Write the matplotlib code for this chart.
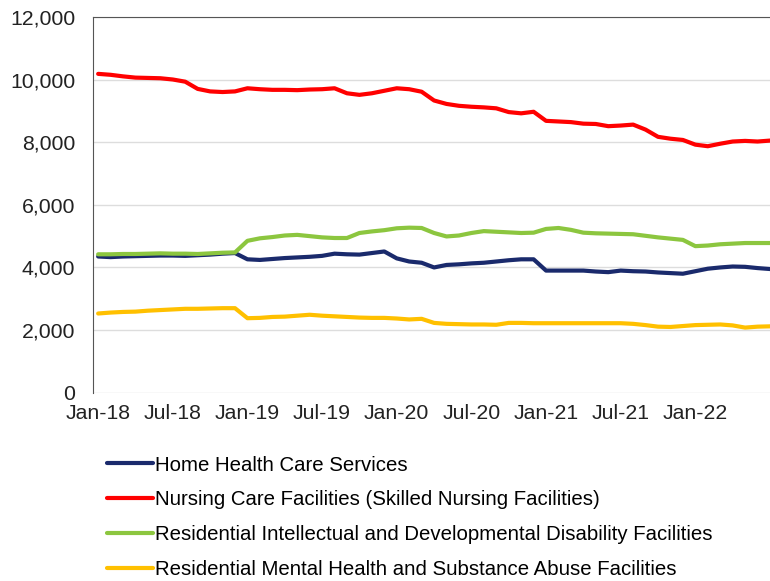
import numpy as np
import matplotlib.pyplot as plt

plt.rcParams['font.family'] = ['Liberation Sans', 'DejaVu Sans']

# monthly values, Jan-18 .. Jul-22
home_health = [4350, 4330, 4350, 4360, 4370, 4380, 4380, 4370, 4390, 4410, 4440, 4460,
               4260, 4240, 4270, 4300, 4320, 4340, 4370, 4440, 4420, 4410, 4460, 4510,
               4290, 4190, 4150, 4000, 4080, 4100, 4130, 4150, 4190, 4230, 4260, 4260,
               3900, 3900, 3900, 3900, 3870, 3850, 3900, 3880, 3870, 3840, 3820, 3800,
               3880, 3960, 4000, 4030, 4020, 3980, 3950]
nursing = [10180, 10150, 10100, 10060, 10050, 10040, 10000, 9930, 9700, 9620, 9600, 9620,
           9720, 9690, 9670, 9670, 9660, 9680, 9690, 9720, 9560, 9510, 9560, 9640,
           9720, 9690, 9610, 9330, 9220, 9160, 9130, 9110, 9080, 8960, 8920, 8970,
           8680, 8660, 8640, 8590, 8580, 8510, 8530, 8560, 8400, 8170, 8110, 8070,
           7920, 7870, 7950, 8020, 8040, 8020, 8050]
idd = [4420, 4420, 4430, 4430, 4440, 4450, 4440, 4440, 4430, 4450, 4470, 4480,
       4850, 4930, 4970, 5020, 5040, 5000, 4960, 4940, 4940, 5100, 5150, 5190,
       5250, 5270, 5260, 5100, 4990, 5020, 5100, 5160, 5140, 5120, 5100, 5110,
       5230, 5260, 5200, 5110, 5090, 5080, 5070, 5060, 5010, 4960, 4920, 4880,
       4680, 4700, 4740, 4760, 4780, 4780, 4780]
mental = [2530, 2560, 2580, 2590, 2620, 2640, 2660, 2680, 2680, 2690, 2700, 2700,
          2380, 2390, 2420, 2430, 2460, 2490, 2460, 2440, 2420, 2400, 2390, 2390,
          2370, 2340, 2360, 2230, 2200, 2190, 2180, 2180, 2170, 2230, 2230, 2220,
          2220, 2220, 2220, 2220, 2220, 2220, 2220, 2200, 2160, 2110, 2100, 2130,
          2160, 2170, 2180, 2150, 2080, 2110, 2120]

labels = ['Home Health Care Services',
          'Nursing Care Facilities (Skilled Nursing Facilities)',
          'Residential Intellectual and Developmental Disability Facilities',
          'Residential Mental Health and Substance Abuse Facilities']
colors = ['#1a2a6c', '#ff0000', '#8cc63f', '#ffc000']
tick_labels = ['Jan-18', 'Jul-18', 'Jan-19', 'Jul-19', 'Jan-20',
               'Jul-20', 'Jan-21', 'Jul-21', 'Jan-22']

months = np.arange(len(nursing))

fig = plt.figure(figsize=(7.7, 5.81), dpi=100)
ax = fig.add_axes([0.121, 0.324, 0.879, 0.647])

for vals, c, lab in zip([home_health, nursing, idd, mental], colors, labels):
    ax.plot(months, vals, color=c, lw=3, label=lab, solid_capstyle='round')

ax.set_ylim(0, 12000)
ax.set_xlim(-0.4, 54)
ax.set_yticks(range(0, 12001, 2000))
ax.set_yticklabels([f'{v:,}' for v in range(0, 12001, 2000)])
ax.set_xticks(range(0, 49, 6))
ax.set_xticklabels(tick_labels)
ax.tick_params(length=0, labelsize=15.3, colors='#222222')
ax.tick_params(axis='y', pad=13)
ax.tick_params(axis='x', pad=8)
ax.grid(axis='y', color='#dddddd', lw=1)
ax.set_axisbelow(True)

for s in ['left', 'top']:
    ax.spines[s].set_color('#555555')
ax.spines['right'].set_visible(False)
ax.spines['bottom'].set_visible(False)

fig.legend(loc='upper left', bbox_to_anchor=(0.139, 0.216),
           frameon=False, fontsize=14.7, handlelength=2.25, handletextpad=0.08,
           labelspacing=0.78, borderaxespad=0, borderpad=0)
plt.savefig('out.png', dpi=100)
